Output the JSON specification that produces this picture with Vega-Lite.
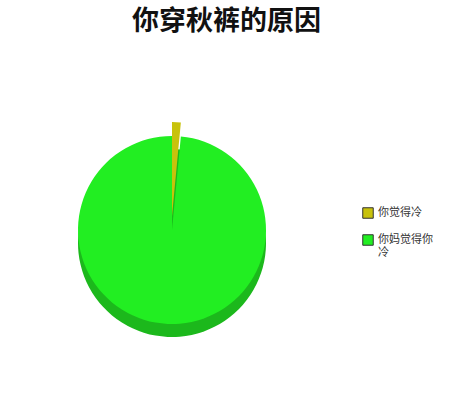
{
  "$schema": "https://vega.github.io/schema/vega-lite/v6.json",
  "width": 344,
  "height": 368,
  "padding": {"left": 0, "top": 8, "right": 0, "bottom": 0},
  "background": "white",
  "title": {
    "text": "你穿秋裤的原因",
    "font": "Noto Sans CJK SC",
    "fontSize": 27,
    "fontWeight": "bold",
    "color": "#111",
    "anchor": "middle",
    "frame": "bounds",
    "dx": 10,
    "offset": 10
  },
  "data": {
    "values": [
      {"reason": "你觉得冷", "share": 1.5},
      {"reason": "你妈觉得你冷", "share": 98.5}
    ]
  },
  "transform": [
    {"stack": "share", "groupby": [], "sort": [{"field": "share", "order": "ascending"}], "as": ["start", "end"]}
  ],
  "encoding": {
    "theta": {"field": "start", "type": "quantitative", "stack": null, "scale": {"domain": [0, 100]}},
    "theta2": {"field": "end"}
  },
  "layer": [
    {
      "mark": {"type": "arc", "outerRadius": 94, "yOffset": 13, "fill": "#1cb81c"}
    },
    {
      "transform": [{"filter": "datum.reason == '你妈觉得你冷'"}],
      "mark": {"type": "arc", "outerRadius": 94},
      "encoding": {
        "color": {
          "field": "reason",
          "type": "nominal",
          "scale": {"domain": ["你觉得冷", "你妈觉得你冷"], "range": ["#c8c20c", "#22ee22"]},
          "legend": {
            "title": null,
            "orient": "none",
            "legendX": 362,
            "legendY": 161,
            "symbolType": "square",
            "symbolSize": 110,
            "symbolStrokeColor": "#333",
            "symbolStrokeWidth": 1,
            "symbolOpacity": 1,
            "labelFont": "Noto Sans CJK SC",
            "labelFontSize": 11,
            "labelColor": "#333",
            "rowPadding": 11,
            "labelExpr": "datum.label == '你妈觉得你冷' ? ['你妈觉得你', '冷'] : datum.label"
          }
        }
      }
    },
    {
      "transform": [{"filter": "datum.reason == '你觉得冷'"}],
      "mark": {"type": "arc", "outerRadius": 94, "yOffset": -14},
      "encoding": {
        "color": {"field": "reason", "type": "nominal"}
      }
    }
  ],
  "config": {
    "view": {"stroke": null}
  }
}
